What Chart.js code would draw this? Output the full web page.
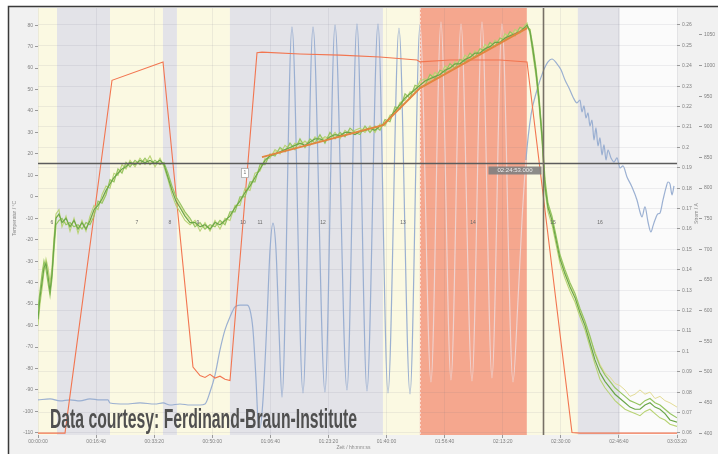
<!DOCTYPE html>
<html>
<head>
<meta charset="utf-8">
<script src="https://cdn.jsdelivr.net/npm/chart.js@4/dist/chart.umd.min.js"></script>
<style>
  html, body { margin: 0; padding: 0; background: #fff; }
  canvas { display: block; }
</style>
</head>
<body>
<canvas id="chart" width="718" height="454"></canvas>
<script>
// ---- axes ----
const timeTicks = [0, 1000, 2000, 3000, 4000, 5000, 6000, 7000, 8000, 9000, 10000, 11000];
const tempTicks = [80, 70, 60, 50, 40, 30, 20, 10, 0, -10, -20, -30, -40, -50, -60, -70, -80, -90, -100, -110];
const currentTicks = [0.26, 0.25, 0.24, 0.23, 0.22, 0.21, 0.20, 0.19, 0.18, 0.17, 0.16, 0.15, 0.14, 0.13, 0.12, 0.11, 0.10, 0.09, 0.08, 0.07, 0.06];
const powerTicks = [1050, 1000, 950, 900, 850, 800, 750, 700, 650, 600, 550, 500, 450, 400];

// ---- test phases (seconds) ----
const phaseStart = [0, 327, 1239, 2151, 2392, 3304, 5938, 6574, 8416, 9294, 10016];
const phaseEnd   = [327, 1239, 2151, 2392, 3304, 5938, 6574, 8416, 9294, 10016, 11000];
const phaseKind  = ['hold', 'idle', 'hold', 'idle', 'hold', 'idle', 'hold', 'heat', 'hold', 'idle', 'end'];

// ---- step numbers ----
const stepTime = [241, 1704, 2272, 2754, 3529, 3822, 4906, 6283, 7488, 8865, 9674];
const stepName = ['6', '7', '8', '9', '10', '11', '12', '13', '14', '15', '16'];
const stepTemp = -11.8;

// ---- cursor ----
const cursorTime = 8693;
const cursorTemp = 15.7;
const markTime = 3563;
const markTemp = 11.1;

// ---- sensor temperatures (°C) ----
const tSensor = [0,34,69,103,138,172,207,241,275,310,361,413,482,551,620,689,757,826,895,964,1033,1102,1171,1239,1308,1377,1446,1515,1584,1670,1756,1842,1928,2014,2100,2169,2238,2307,2376,2444,
  2530,2617,2703,2789,2875,2961,3047,3133,3219,3305,3391,3477,3563,3649,3735,3822,3908,3994,4080,4166,4252,4338,4424,4510,4596,4682,4768,4854,4940,5026,5113,5199,5285,5371,5457,5543,5629,5715,5801,5887,5973,6059,6146,6232,6318,6404,6490,6576,6662,6748,6834,6920,7006,7092,7178,7264,7350,7436,7522,7608,7694,7781,7867,7953,8039,8125,8211,8297,8383,
  8418,8469,8521,8573,8624,8676,8728,8779,8848,8917,8986,
  9072,9158,9244,9330,9416,9502,9588,9674,9760,9847,9933,10019,10105,10191,10277,10363,10449,10535,10621,10707,10793,10879,11000];

const sensorA = [-57,-47,-40,-33,-31,-37,-44,-36,-22,-10,-8,-12,-10,-14,-11,-15,-12,-15,-11,-6,-4,-1,3,6,9,11,13,14,16,15,17,16,17,15.5,17,15,9,3,-2,-5,
  -9,-12,-12,-14,-13,-15,-12,-13,-11,-9,-5,-2,2,5,9,13,17,19,20,21,22,23,24,25,24,25.5,27,27,26,28,29,28.5,30,30,29,30.5,31,32,31,33,34,37,40,43,46,48,50,52,54,55,56,57,59,60,62,62,64,65,67,67,69,70,72,72,74,75,76,77,79,
  80,77,68,58,45,28,5,-5,-11,-20,-29,
  -36,-42,-47,-54,-60,-68,-76,-82,-86,-89,-92,-94,-96,-98,-99,-99,-97,-96,-98,-99,-101,-104,-105];

const sensorB = [-52,-44,-36,-30,-34,-40,-46,-38,-25,-13,-11,-10,-13,-12,-14,-13,-15,-12,-13,-9,-2,-3,1,8,7,13,11,16,14,17,15,18,15,17,15,16,11,5,0,-3,
  -7,-10,-14,-12,-15,-13,-14,-11,-13,-7,-7,0,0,7,7,15,15,20,19,23,21,25,22,27,23,27,25,29,25,30,27,30,28,32,30,29,33,30,33,31,36,35,42,41,48,46,52,51,52,57,55,59,58,62,60,64,63,67,65,69,68,72,70,74,73,77,75,79,78,
  79,78,70,60,47,30,8,-3,-9,-18,-27,
  -34,-40,-45,-52,-58,-65,-73,-79,-83,-86,-89,-91,-93,-95,-96,-97,-95,-94,-96,-97,-99,-101,-103];

const sensorC = [-60,-50,-43,-35,-29,-33,-40,-33,-19,-8,-6,-14,-9,-16,-10,-17,-11,-16,-9,-4,-6,1,5,4,11,10,15,13,17,14,18,15,19,14,18,14,8,1,-4,-7,
  -11,-13,-11,-16,-12,-16,-11,-15,-10,-11,-4,-4,4,3,11,12,18,18,22,20,24,22,25,24,26,24,28,26,28,27,30,27,31,29,31,32,30,33,30,34,33,38,39,44,45,49,49,54,55,54,58,56,61,59,63,61,66,64,68,66,71,69,73,71,76,74,78,76,80,
  81,76,66,56,43,26,3,-7,-13,-22,-31,
  -38,-44,-49,-56,-62,-70,-78,-85,-89,-92,-95,-97,-99,-100,-101,-102,-100,-99,-101,-103,-104,-106,-107];

const sensorD = [-55,-46,-38,-31,-30,-36,-42,-35,-21,-9,-9,-11,-12,-13,-12,-14,-13,-14,-12,-7,-3,-2,2,7,8,12,12,15,15,16,16,17,16,16,16,15,10,4,-1,-4,
  -8,-11,-13,-13,-14,-14,-13,-12,-12,-8,-6,-1,1,6,8,14,16,19,21,22,22,24,23,26,25,26,26,28,27,29,28,29,29,31,30,31,32,31,32,32,35,36,41,42,47,47,51,53,53,56,57,58,60,61,61,63,65,66,66,68,70,71,71,73,75,76,77,78,79,
  80,78,69,59,46,29,6,-4,-10,-19,-28,
  -35,-41,-46,-53,-59,-66,-72,-78,-82,-84,-87,-88,-90,-93,-92,-90,-92,-91,-94,-93,-95,-96,-98];

// ---- linear fit over the ramp (°C) ----
const tFit = [3856, 5939, 6576, 8418];
const tempFit = [18.5, 33.4, 50.7, 78.6];

// ---- heater power setpoint ----
const tPower = [0,465,1274,2152,2668,2789,2875,2961,3047,3133,3219,3305,3770,3856,4510,5199,5887,6524,6576,7092,7953,8418,9192,9330,11000];
const power  = [400,400,976,1006,508,494,491,496,490,493,488,486,1021,1022,1019,1017,1014,1009,1006,1009,1009,1006,401,400,400];

// ---- current (A) ----
const tCurrent = [0,207,379,551,723,895,1067,1205,1239,1498,1756,2014,2152,2272,2444,2617,2789,2875,2961,3047,3133,3219,3305,3391,3477,3598,3649,3701,3753,3787,3822,3873,3942,3994,4045,4097,4149,4200,
  4372,4562,4734,4940,5113,5319,5491,5663,5853,6025,6214,6404,6576,6765,6937,7109,7282,7471,7643,7815,7987,8177,
  8263,8332,8400,8487,8590,8693,8779,8848,8934,9003,9072,9141,9209,9278,9330,9364,9399,9433,9468,9502,9537,9571,9605,9640,9674,9709,9743,9778,9812,9864,9915,9967,10019,10070,10139,10225,10311,10363,10397,10449,10501,10552,10587,10621,10673,10707,10759,10810,10845,10879,10914,10948];
const current = [0.0762,0.0767,0.0757,0.0762,0.0757,0.0767,0.0762,0.0762,0.0747,0.0742,0.0747,0.0742,0.0747,0.0737,0.0742,0.0737,0.0737,0.0742,0.0801,0.0884,0.1007,0.1105,0.1169,0.1218,0.1227,0.1227,0.1203,0.1105,0.0860,0.0664,0.0625,0.0762,0.1154,0.1497,0.1629,0.1497,0.1105,0.0776,
  0.2590,0.0796,0.2590,0.0801,0.2600,0.0811,0.2605,0.0806,0.2605,0.0796,0.2585,0.0791,0.2600,0.0850,0.2615,0.0860,0.2605,0.0855,0.2615,0.0870,0.2605,0.0850,
  0.1252,0.1644,0.1938,0.2159,0.2281,0.2370,0.2419,0.2433,0.2409,0.2380,0.2330,0.2291,0.2247,0.2218,0.2232,0.2174,0.2203,0.2144,0.2169,0.2105,0.2134,0.2036,0.2095,0.2007,0.2046,0.1963,0.2012,0.1938,0.1987,0.1948,0.1928,0.1948,0.1899,0.1909,0.1855,0.1806,0.1742,0.1683,0.1659,0.1708,0.1634,0.1585,0.1615,0.1644,0.1674,0.1678,0.1742,0.1801,0.1830,0.1821,0.1767,0.1811];

// ---- helpers ----
const pts = (xs, ys) => xs.map((x, i) => ({ x, y: ys[i] }));
const hms = s => {
  const h = Math.floor(s / 3600), m = Math.floor((s % 3600) / 60), sec = Math.round(s % 60);
  return [h, m, sec].map(v => String(v).padStart(2, '0')).join(':');
};
const fixTicks = list => scale => { scale.ticks = list.map(v => ({ value: v })); };
const inHeat = t => phaseKind.some((k, i) => k === 'heat' && t >= phaseStart[i] && t < phaseEnd[i]);

const phaseFill = { hold: '#fbf9e2', idle: '#e3e3e8', end: '#fbfbfb', heat: '#f5a78e' };
const currentColor = 'rgba(150,172,208,0.95)';
const currentHeatColor = 'rgba(238,212,210,0.95)';
const tickFont = { family: 'Liberation Sans', size: 5 };
const tickColor = '#808080';

// page frame, phase bands
const backdrop = {
  id: 'backdrop',
  beforeDraw(chart) {
    const { ctx, width, height, chartArea: a, scales: { x } } = chart;
    ctx.save();
    ctx.fillStyle = '#ffffff';
    ctx.fillRect(0, 0, width, height);
    ctx.fillStyle = '#f1f1f1';
    ctx.fillRect(8, 6, width - 8, height - 6);
    ctx.strokeStyle = '#3a3a3a';
    ctx.lineWidth = 1.5;
    ctx.beginPath();
    ctx.moveTo(8.5, height);
    ctx.lineTo(8.5, 6.5);
    ctx.lineTo(width, 6.5);
    ctx.stroke();
    ctx.beginPath();
    ctx.rect(a.left, a.top, a.width, a.height);
    ctx.clip();
    phaseKind.forEach((k, i) => {
      const x0 = x.getPixelForValue(phaseStart[i]);
      const x1 = x.getPixelForValue(phaseEnd[i]);
      ctx.fillStyle = phaseFill[k];
      ctx.fillRect(x0, a.top, x1 - x0, a.height);
      if (k === 'heat') {
        ctx.strokeStyle = 'rgba(255,255,255,0.55)';
        ctx.lineWidth = 1;
        ctx.setLineDash([2, 2]);
        [x0, x1].forEach(px => {
          ctx.beginPath();
          ctx.moveTo(Math.round(px) + 0.5, a.top);
          ctx.lineTo(Math.round(px) + 0.5, a.bottom);
          ctx.stroke();
        });
        ctx.setLineDash([]);
      }
    });
    ctx.restore();
  }
};

// cursor, step numbers, axis titles, credit line
const overlay = {
  id: 'overlay',
  afterDatasetsDraw(chart) {
    const { ctx, chartArea: a, scales: { x, y } } = chart;
    ctx.save();
    ctx.beginPath();
    ctx.rect(a.left, a.top, a.width, a.height);
    ctx.clip();

    // step numbers
    ctx.font = '5px "Liberation Sans"';
    ctx.fillStyle = '#6a6a6a';
    ctx.textAlign = 'center';
    ctx.textBaseline = 'middle';
    stepTime.forEach((t, i) => ctx.fillText(stepName[i], x.getPixelForValue(t), y.getPixelForValue(stepTemp)));

    // cursor lines
    const cx = Math.round(x.getPixelForValue(cursorTime)) + 0.5;
    const cy = Math.round(y.getPixelForValue(cursorTemp)) + 0.5;
    ctx.strokeStyle = '#5c5c5c';
    ctx.lineWidth = 1.4;
    ctx.beginPath();
    ctx.moveTo(a.left, cy);
    ctx.lineTo(a.right, cy);
    ctx.stroke();
    ctx.strokeStyle = '#777066';
    ctx.lineWidth = 1.6;
    ctx.beginPath();
    ctx.moveTo(cx, a.top);
    ctx.lineTo(cx, a.bottom);
    ctx.stroke();

    // cursor readout
    const label = hms(cursorTime) + '.000';
    ctx.font = '6px "Liberation Sans"';
    const w = 53;
    ctx.fillStyle = 'rgba(128,128,128,0.9)';
    ctx.fillRect(cx - 2 - w, cy + 3, w, 8);
    ctx.fillStyle = '#ececec';
    ctx.textAlign = 'center';
    ctx.fillText(label, cx - 2 - w / 2, cy + 7.2);

    // note marker
    const mx = x.getPixelForValue(markTime), my = y.getPixelForValue(markTemp);
    ctx.fillStyle = '#ffffff';
    ctx.strokeStyle = '#a8a8a8';
    ctx.lineWidth = 0.8;
    ctx.fillRect(mx - 3.5, my - 4.5, 7, 9);
    ctx.strokeRect(mx - 3.5, my - 4.5, 7, 9);
    ctx.fillStyle = '#777';
    ctx.font = '5px "Liberation Sans"';
    ctx.fillText('1', mx, my);
    ctx.restore();

    // axis titles
    ctx.save();
    ctx.fillStyle = '#8a8a8a';
    ctx.font = '5px "Liberation Sans"';
    ctx.textAlign = 'center';
    ctx.textBaseline = 'middle';
    const midY = (a.top + a.bottom) / 2;
    ctx.save();
    ctx.translate(chart.scales.y.left + 15, midY - 3);
    ctx.rotate(-Math.PI / 2);
    ctx.fillText('Temperatur / °C', 0, 0);
    ctx.restore();
    ctx.save();
    ctx.translate(chart.scales.y2.right - 2, midY - 8);
    ctx.rotate(-Math.PI / 2);
    ctx.fillText('Strom / A', 0, 0);
    ctx.restore();
    ctx.fillText('Zeit / hh:mm:ss', (a.left + a.right) / 2 - 4, chart.scales.x.bottom - 6);
    ctx.restore();

    // credit line
    ctx.save();
    ctx.fillStyle = '#505050';
    ctx.font = 'bold 28px "Liberation Sans Narrow", "Liberation Sans", sans-serif';
    ctx.textAlign = 'left';
    ctx.textBaseline = 'alphabetic';
    ctx.fillText('Data courtesy: Ferdinand-Braun-Institute', a.left + 12, a.bottom - 7, 307);
    ctx.restore();
  }
};

const line = (data, color, width, axis, order, extra) => Object.assign({
  data, borderColor: color, borderWidth: width, yAxisID: axis, order,
  pointRadius: 0, fill: false, tension: 0
}, extra || {});

new Chart(document.getElementById('chart'), {
  type: 'line',
  data: {
    datasets: [
      line(pts(tCurrent, current), currentColor, 1.2, 'y2', 10, {
        cubicInterpolationMode: 'monotone',
        segment: { borderColor: c => inHeat(c.p0.parsed.x) && inHeat(c.p1.parsed.x) ? currentHeatColor : currentColor }
      }),
      line(pts(tPower, power), '#f27550', 1.1, 'y3', 9),
      line(pts(tSensor, sensorD), '#e3dc95', 1, 'y', 8),
      line(pts(tSensor, sensorC), '#b8d374', 1.1, 'y', 7),
      line(pts(tSensor, sensorB), '#96c561', 1.2, 'y', 6),
      line(pts(tSensor, sensorA), '#6aa648', 1.2, 'y', 5),
      line(pts(tFit, tempFit), '#e2853f', 2, 'y', 4)
    ]
  },
  options: {
    responsive: false,
    animation: false,
    devicePixelRatio: 1,
    layout: { padding: { top: 8, left: 0, right: 0, bottom: 0 } },
    plugins: { legend: { display: false }, tooltip: { enabled: false } },
    scales: {
      x: {
        type: 'linear', position: 'bottom', min: 0, max: 11000,
        afterBuildTicks: fixTicks(timeTicks),
        afterFit: s => { s.height = 19; },
        ticks: { callback: v => hms(v), font: tickFont, color: tickColor, padding: 1, maxRotation: 0, autoSkip: false },
        grid: { color: 'rgba(110,110,125,0.10)', tickColor: '#9a9a9a', tickLength: 3 },
        border: { display: false }
      },
      y: {
        type: 'linear', position: 'left', min: -111, max: 88,
        afterBuildTicks: fixTicks(tempTicks),
        afterFit: s => { s.width = 38; },
        ticks: { callback: v => String(v), font: tickFont, color: tickColor, padding: 2, autoSkip: false },
        grid: { drawOnChartArea: false, tickColor: '#9a9a9a', tickLength: 3 },
        border: { display: false }
      },
      y2: {
        type: 'linear', position: 'right', min: 0.059, max: 0.2683,
        afterBuildTicks: fixTicks(currentTicks),
        afterFit: s => { s.width = 22; },
        ticks: { callback: v => String(+v.toFixed(2)), font: tickFont, color: tickColor, padding: 2, autoSkip: false },
        grid: { color: 'rgba(110,110,125,0.10)', tickColor: '#9a9a9a', tickLength: 3 },
        border: { display: false }
      },
      y3: {
        type: 'linear', position: 'right', min: 397, max: 1094,
        afterBuildTicks: fixTicks(powerTicks),
        afterFit: s => { s.width = 19; },
        ticks: { callback: v => String(v), font: tickFont, color: tickColor, padding: 2, autoSkip: false },
        grid: { drawOnChartArea: false, tickColor: '#9a9a9a', tickLength: 3 },
        border: { display: false }
      }
    }
  },
  plugins: [backdrop, overlay]
});
</script>
</body>
</html>
